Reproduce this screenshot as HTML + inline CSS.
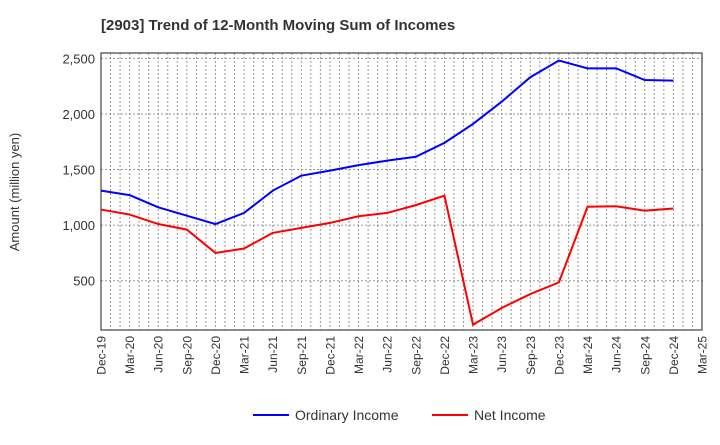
<!DOCTYPE html>
<html><head><meta charset="utf-8"><style>
body{margin:0;background:#fff;font-family:"Liberation Sans",sans-serif}
svg text{font-family:"Liberation Sans",sans-serif;fill:#333}
</style></head><body>
<svg id="c" width="720" height="440">
<text x="101" y="30" font-size="15" font-weight="bold">[2903]  Trend of 12-Month Moving Sum of Incomes</text>
<text transform="translate(19,192) rotate(-90)" font-size="13" text-anchor="middle">Amount (million yen)</text>
<g id="grid"></g><g id="axes"></g><g id="series"></g>
<g>
<line x1="253" y1="415" x2="289" y2="415" stroke="#0000ff" stroke-width="2"/>
<text x="295" y="420" font-size="14">Ordinary Income</text>
<line x1="432" y1="415" x2="468" y2="415" stroke="#ff0000" stroke-width="2"/>
<text x="474" y="420" font-size="14">Net Income</text>
</g>
</svg>
<script>
const categories=["Dec-19","Mar-20","Jun-20","Sep-20","Dec-20","Mar-21","Jun-21","Sep-21","Dec-21","Mar-22","Jun-22","Sep-22","Dec-22","Mar-23","Jun-23","Sep-23","Dec-23","Mar-24","Jun-24","Sep-24","Dec-24","Mar-25"];
const ordinaryIncome=[1310,1270,1160,1085,1010,1110,1310,1445,1490,1540,1580,1615,1740,1910,2110,2330,2480,2410,2410,2305,2300];
const netIncome=[1140,1095,1010,960,750,790,930,975,1020,1080,1110,1180,1265,105,255,380,485,1165,1170,1130,1150];
const yTicks=[500,1000,1500,2000,2500];
const yMin=57,yMax=2548;
const L=101,R=702,T=53,B=330;
const ns="http://www.w3.org/2000/svg";
const xs=i=>L+(R-L)*i/(categories.length-1);
const ys=v=>B-(B-T)*(v-yMin)/(yMax-yMin);
function mk(t,a,p){const e=document.createElementNS(ns,t);for(const k in a)e.setAttribute(k,a[k]);p.appendChild(e);return e;}
const g=document.getElementById('grid'),ax=document.getElementById('axes'),s=document.getElementById('series');
for(let m=1;m<(categories.length-1)*3;m++){const x=L+(R-L)*m/((categories.length-1)*3);
const l=mk('line',{x1:x,x2:x,y1:T,y2:B,stroke:'#999','stroke-dasharray':'2,2'},g);

}
yTicks.forEach(v=>{const y=ys(v);
const l=mk('line',{x1:L,x2:R,y1:y,y2:y,stroke:'#999','stroke-dasharray':'2,2'},g);


const t=mk('text',{x:L-6,y:y+5,'font-size':13,'text-anchor':'end'},ax);t.textContent=v.toLocaleString('en-US');

});
const fr=mk('rect',{x:L,y:T,width:R-L,height:B-T,fill:'none',stroke:'#444','stroke-width':1.2},ax);


categories.forEach((c,i)=>{const x=xs(i);
const t=mk('text',{transform:`translate(${x+4.5},${B+6}) rotate(-90)`,'font-size':12,'text-anchor':'end'},ax);t.textContent=c;

});
function line(d,col,name){const p=mk('polyline',{points:d.map((v,i)=>xs(i)+','+ys(v)).join(' '),fill:'none',stroke:col,'stroke-width':2},s);

}
line(ordinaryIncome,'#0000ff','ordinary-income-line');
line(netIncome,'#ff0000','net-income-line');
</script>
</body></html>
